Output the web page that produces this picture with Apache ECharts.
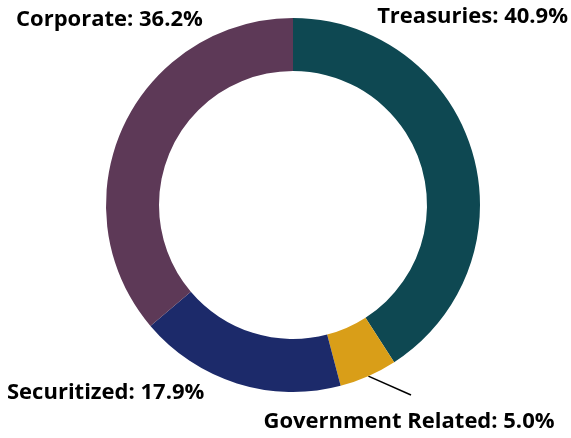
<!DOCTYPE html>
<html>
<head>
<meta charset="utf-8">
<script src="https://cdn.jsdelivr.net/npm/echarts@6/dist/echarts.min.js"></script>
<style>
  html, body { margin: 0; padding: 0; background: #fff; }
  #chart { width: 571px; height: 438px; }
</style>
</head>
<body>
<div id="chart"></div>
<script>
var categories = ['Treasuries', 'Government Related', 'Securitized', 'Corporate'];
var values = [40.9, 5.0, 17.9, 36.2];
var colors = ['#0e4852', '#d99e18', '#1c2a6a', '#5d3957'];

// label anchor spots, one per slice
var labelSpots = [
    { x: 568, y: 17, align: 'right' },
    { x: 409, y: 422, align: 'center' },
    { x: 7, y: 393, align: 'left' },
    { x: 16, y: 20, align: 'left' }
];

var myChart = echarts.init(document.getElementById('chart'));
var option = {
    animation: false,
    series: [
        {
            type: 'pie',
            center: [293, 205],
            radius: [134, 187],
            startAngle: 90,
            clockwise: true,
            avoidLabelOverlap: false,
            itemStyle: { borderWidth: 0 },
            label: {
                show: true,
                formatter: function (p) { return p.name + ': ' + p.value.toFixed(1) + '%'; },
                fontFamily: 'Open Sans',
                fontWeight: 'bold',
                fontSize: 22,
                color: '#000'
            },
            labelLine: { show: false },
            labelLayout: function (params) {
                var s = labelSpots[params.dataIndex];
                var out = { x: s.x, y: s.y, align: s.align, verticalAlign: 'middle' };
                if (params.dataIndex === 1 && params.labelLinePoints) {
                    var p0 = params.labelLinePoints[0];
                    out.labelLinePoints = [p0, [411, 395], [411, 395]];
                }
                return out;
            },
            data: categories.map(function (c, i) {
                var d = { name: c, value: values[i], itemStyle: { color: colors[i] } };
                if (i === 1) {
                    d.labelLine = { show: true, length: 10, length2: 0, lineStyle: { color: '#000', width: 1.5 } };
                }
                return d;
            })
        }
    ]
};
myChart.setOption(option);
</script>
</body>
</html>
